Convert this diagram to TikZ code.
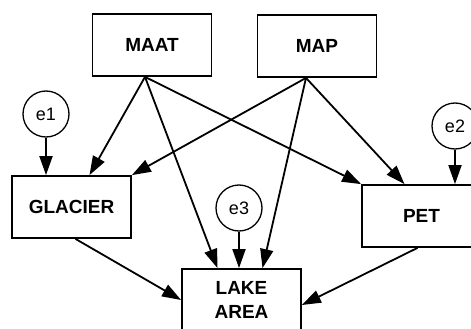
\documentclass[tikz,border=0pt]{standalone}
\usepackage{fontspec}
\setmainfont{Liberation Sans}
\usetikzlibrary{arrows.meta}

\begin{document}
\begin{tikzpicture}[x=1pt,y=-1pt,
  var/.style={draw,line width=1.8pt,minimum width=119pt,minimum height=62pt,
    align=center,font=\fontsize{19}{24}\selectfont\bfseries},
  err/.style={circle,draw,line width=1.3pt,minimum size=46pt,inner sep=0pt,
    font=\fontsize{18}{20}\selectfont},
  arr/.style={-{Triangle[length=19pt,width=13pt]},line width=1.8pt}]

\useasboundingbox (0,0) rectangle (471,329);

\node[var] (maat) at (152,45) {MAAT};

\node[var] (map) at (317,46) {MAP};

\node[var] (glac) at (71.5,207) {GLACIER};

\node[var] (pet) at (421.5,216) {PET};

\node[var] (lake) at (241.5,300) {LAKE\\AREA};

\node[err] (e1) at (46,114) {e1};
\node[err] (e2) at (455,126) {e2};
\node[err] (e3) at (239,208) {e3};


\draw[arr] ([xshift=-7pt]maat.south) -- ([xshift=18pt]glac.north);
\draw[arr] ([xshift=-7pt]maat.south) -- ([xshift=-24pt]lake.north);
\draw[arr] ([xshift=-7pt]maat.south) -- (pet.north west);
\draw[arr] ([xshift=-11pt]map.south) -- (glac.north east);
\draw[arr] ([xshift=-11pt]map.south) -- ([xshift=21pt]lake.north);
\draw[arr] ([xshift=-11pt]map.south) -- ([xshift=-17pt]pet.north);
\draw[arr] (e1) -- (e1 |- glac.north);
\draw[arr] (e2) -- (e2 |- pet.north);
\draw[arr] (e3) -- (e3 |- lake.north);
\draw[arr] ([xshift=4pt]glac.south) -- (lake.west);
\draw[arr] ([xshift=-4pt]pet.south) -- ([yshift=-5pt]lake.east);


\end{tikzpicture}
\end{document}
